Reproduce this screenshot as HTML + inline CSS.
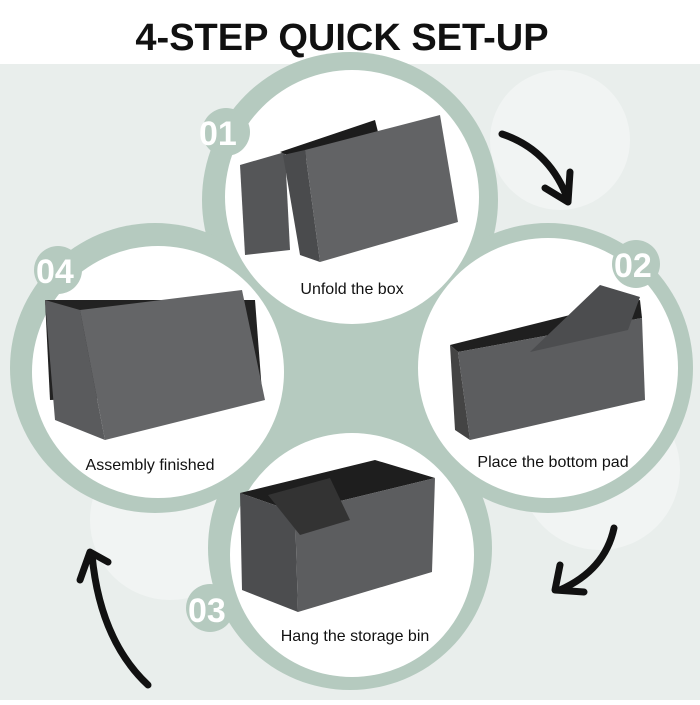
<!DOCTYPE html><html><head><style>body{margin:0;width:700px;height:700px;overflow:hidden;background:#fff;font-family:"Liberation Sans",sans-serif}</style></head><body>
<svg width="700" height="700" viewBox="0 0 700 700" xmlns="http://www.w3.org/2000/svg">
<rect x="0" y="64" width="700" height="636" fill="#e9eeec"/>
<g fill="#f1f4f3"><circle cx="560" cy="140" r="70"/><circle cx="600" cy="470" r="80"/><circle cx="170" cy="520" r="80"/></g>
<g fill="#b5cabf">
<circle cx="350" cy="200" r="148"/><circle cx="155" cy="368" r="145"/><circle cx="548" cy="368" r="145"/><circle cx="350" cy="548" r="142"/>
<rect x="230" y="250" width="240" height="240"/>
</g>
<g fill="#fff">
<circle cx="352" cy="197" r="127"/><circle cx="158" cy="372" r="126"/><circle cx="548" cy="368" r="130"/><circle cx="352" cy="555" r="122"/>
</g>
<g fill="#b5cabf">
<circle cx="226" cy="132" r="24"/><circle cx="58" cy="270" r="24"/><circle cx="636" cy="264" r="24"/><circle cx="210" cy="608" r="24"/>
</g>
<g font-family="Liberation Sans" font-weight="bold" font-size="34" fill="#fff">
<text x="199" y="145">01</text><text x="36" y="283">04</text><text x="614" y="277">02</text><text x="188" y="622">03</text></g>
<g>
<polygon points="240,165 285,152 290,250 245,255" fill="#555658"/>
<polygon points="280,152 375,120 380,140 300,160" fill="#1c1c1c"/>
<polygon points="283,155 305,150 320,262 300,255" fill="#4a4b4d"/>
<polygon points="305,150 440,115 458,222 320,262" fill="#626365"/>
<polygon points="45,300 255,300 262,392 50,400" fill="#222"/>
<polygon points="45,300 80,310 105,440 55,420" fill="#5a5b5d"/>
<polygon points="80,310 242,290 265,400 105,440" fill="#646567"/>
<polygon points="450,345 590,310 640,300 642,318 458,352" fill="#1f1f1f"/>
<polygon points="450,345 458,352 470,440 455,430" fill="#444"/>
<polygon points="458,352 642,318 645,400 470,440" fill="#5c5d5f"/>
<polygon points="530,352 600,285 640,297 628,330" fill="#4c4d4f"/>
<polygon points="240,493 375,460 435,478 295,512" fill="#1e1e1e"/>
<polygon points="240,493 295,512 298,612 242,590" fill="#4c4d4f"/>
<polygon points="295,512 435,478 432,572 298,612" fill="#5c5d5f"/>
<polygon points="268,495 330,478 350,520 300,535" fill="#333"/>
</g>
<g font-size="16" fill="#111" text-anchor="middle">
<text x="352" y="294">Unfold the box</text>
<text x="150" y="470">Assembly finished</text>
<text x="553" y="467">Place the bottom pad</text>
<text x="355" y="641">Hang the storage bin</text></g>
<g fill="none" stroke="#111" stroke-width="7" stroke-linecap="round" stroke-linejoin="round">
<path d="M502,134 Q550,150 568,200"/><path d="M545,188 L568,202 L570,172"/>
<path d="M614,528 Q605,570 560,590"/><path d="M560,565 L555,590 L584,592"/>
<path d="M148,685 Q100,640 92,555"/><path d="M80,580 L90,552 L108,562"/>
</g>
<text x="342" y="50" text-anchor="middle" font-size="38" font-weight="bold" fill="#111">4-STEP QUICK SET-UP</text>
</svg></body></html>
